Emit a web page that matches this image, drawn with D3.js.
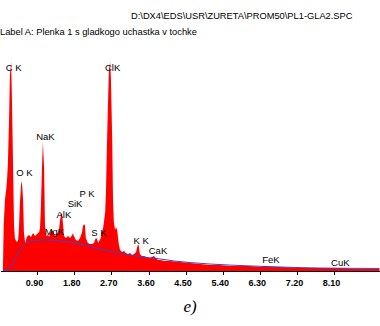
<!DOCTYPE html>
<html>
<head>
<meta charset="utf-8">
<script src="https://cdn.jsdelivr.net/npm/d3@7"></script>
<style>
  body { margin: 0; background: #fff; }
  svg { display: block; font-family: "Liberation Sans", Arial, sans-serif; }
  .axis text { font-size: 9px; font-weight: bold; fill: #000; }
  .axis path, .axis line { stroke: #000; shape-rendering: crispEdges; }
  .peak-label { font-size: 9.5px; fill: #000; }
  .header { font-size: 9.3px; fill: #000; }
</style>
</head>
<body>
<svg id="chart" width="380" height="326"></svg>
<script>
// spectrum: [energy keV, counts]
const spectrum = [
  [0.07, 0], [0.09, 218], [0.12, 336], [0.15, 384], [0.17, 431], [0.19, 500],
  [0.22, 716], [0.24, 929], [0.27, 990], [0.29, 810], [0.32, 455], [0.34, 218],
  [0.36, 156], [0.39, 142], [0.41, 137], [0.44, 147], [0.46, 204], [0.48, 313],
  [0.51, 408], [0.53, 427], [0.56, 336], [0.58, 185], [0.61, 133], [0.63, 147],
  [0.65, 161], [0.70, 171], [0.75, 161], [0.80, 180], [0.85, 166], [0.90, 175],
  [0.95, 185], [0.97, 204], [0.99, 289], [1.02, 502], [1.04, 611], [1.07, 479],
  [1.09, 218], [1.12, 166], [1.14, 166], [1.16, 175], [1.19, 161], [1.21, 180],
  [1.26, 194], [1.28, 190], [1.33, 166], [1.38, 175], [1.43, 194], [1.45, 232],
  [1.48, 270], [1.50, 275], [1.53, 218], [1.55, 166], [1.60, 156], [1.65, 166],
  [1.70, 156], [1.75, 171], [1.77, 180], [1.79, 166], [1.84, 147], [1.89, 142],
  [1.94, 156], [1.99, 185], [2.01, 213], [2.04, 223], [2.06, 213], [2.08, 156],
  [2.13, 133], [2.18, 128], [2.23, 128], [2.28, 133], [2.30, 147], [2.33, 156],
  [2.35, 152], [2.38, 133], [2.42, 147], [2.45, 161], [2.47, 185], [2.50, 204],
  [2.52, 232], [2.55, 280], [2.57, 384], [2.59, 573], [2.62, 810], [2.64, 953],
  [2.67, 990], [2.69, 905], [2.72, 621], [2.74, 336], [2.76, 232], [2.79, 194],
  [2.81, 209], [2.84, 194], [2.86, 161], [2.88, 128], [2.91, 100], [2.96, 90],
  [3.01, 95], [3.05, 85], [3.10, 81], [3.15, 85], [3.20, 76], [3.25, 81],
  [3.30, 90], [3.32, 109], [3.35, 128], [3.37, 114], [3.39, 81], [3.44, 71],
  [3.49, 71], [3.54, 66], [3.59, 62], [3.64, 62], [3.68, 66], [3.73, 71],
  [3.78, 62], [3.83, 52], [3.88, 52], [4.00, 47], [4.12, 47], [4.36, 43],
  [4.61, 38], [4.85, 33], [5.09, 28], [5.33, 28], [5.58, 24], [5.82, 24],
  [6.06, 24], [6.30, 19], [6.40, 24], [6.50, 19], [6.79, 19], [7.27, 14],
  [7.76, 14], [8.07, 14], [8.24, 14], [8.73, 9], [9.20, 9]
];

// fitted background (blue line)
const background = [
  [0.07, 2], [0.17, 5], [0.32, 38], [0.48, 100], [0.61, 128], [0.73, 142],
  [0.97, 147], [1.21, 147], [1.45, 142], [1.70, 137], [1.94, 128], [2.18, 118],
  [2.42, 104], [2.67, 95], [2.91, 85], [3.15, 76], [3.39, 69], [3.64, 62],
  [3.88, 57], [4.24, 47], [4.61, 40], [5.09, 33], [5.58, 28], [6.06, 24],
  [6.79, 19], [7.76, 14], [9.20, 12]
];

// peak labels: [text, energy, label level in counts]
const peakLabels = [
  ['C K', 0.33, 962], ['O K', 0.59, 464], ['NaK', 1.10, 635], ['MgK', 1.32, 185],
  ['AlK', 1.55, 265], ['SiK', 1.82, 318], ['P K', 2.11, 365], ['S K', 2.40, 180],
  ['ClK', 2.73, 962], ['K K', 3.42, 142], ['CaK', 3.83, 95], ['FeK', 6.57, 52],
  ['CuK', 8.25, 38]
];

const tickValues = [0.9, 1.8, 2.7, 3.6, 4.5, 5.4, 6.3, 7.2, 8.1];

const fileName = 'D:\\DX4\\EDS\\USR\\ZURETA\\PROM50\\PL1-GLA2.SPC';
const labelLine = 'Label A: Plenka 1 s gladkogo uchastka v tochke';
const caption = 'e)';

const svg = d3.select('#chart');

const x = d3.scaleLinear().domain([0, 9.2]).range([0, 379.5]);
const y = d3.scaleLinear().domain([0, 1000]).range([271, 60]);

svg.append('text')
  .classed('header', true)
  .attr('x', 131)
  .attr('y', 19)
  .text(fileName);

svg.append('text')
  .classed('header', true)
  .attr('x', 0)
  .attr('y', 35)
  .text(labelLine);

const area = d3.area()
  .x((d) => x(d[0]))
  .y0(y(0))
  .y1((d) => y(d[1]));

svg.append('path')
  .datum(spectrum)
  .attr('d', area)
  .attr('fill', '#ff0000');

const line = d3.line()
  .x((d) => x(d[0]))
  .y((d) => y(d[1]))
  .curve(d3.curveMonotoneX);

svg.append('path')
  .datum(background)
  .attr('d', line)
  .attr('fill', 'none')
  .attr('stroke', '#4b3fc8')
  .attr('stroke-width', 1);

const axis = svg.append('g')
  .classed('axis', true)
  .attr('transform', `translate(0, ${y(0)})`)
  .call(d3.axisBottom(x)
    .tickValues(tickValues)
    .tickFormat(d3.format('.2f'))
    .tickSize(4)
    .tickSizeOuter(0));
axis.selectAll('text').attr('dx', -3).attr('dy', '0.85em');

svg.append('g')
  .selectAll('text')
  .data(peakLabels)
  .enter()
    .append('text')
    .classed('peak-label', true)
    .attr('x', (d) => x(d[1]))
    .attr('y', (d) => y(d[2]))
    .attr('dy', '0.35em')
    .attr('text-anchor', 'middle')
    .text((d) => d[0]);

svg.append('text')
  .attr('x', 190)
  .attr('y', 312)
  .attr('text-anchor', 'middle')
  .style('font-family', '"Liberation Serif", "Times New Roman", serif')
  .style('font-style', 'italic')
  .style('font-size', '17px')
  .text(caption);
</script>
</body>
</html>
